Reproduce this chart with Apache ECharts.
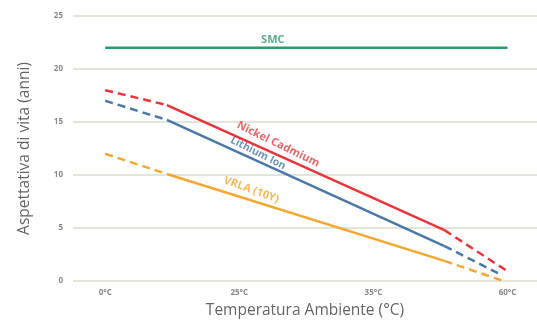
<!DOCTYPE html>
<html><head><meta charset="utf-8">
<script src="https://cdn.jsdelivr.net/npm/echarts@6/dist/echarts.min.js"></script>
<style>html,body{margin:0;padding:0;background:#fff}#c{width:537px;height:320px}</style>
</head><body><div id="c"></div>
<script>
const tickLabels = ['0°C', '25°C', '35°C', '60°C'];
// x positions on the temperature scale (category index units)
const xBreaks = [0, 0.46, 2.53, 2.99];
const smcX = [0, 3];
const smcY = [22, 22];
const nickelY = [18, 16.6, 4.8, 1.0];
const lithiumY = [17, 15.2, 3.3, 0.6];
const vrlaY = [12, 10.1, 1.9, 0.0];
const lithiumEndX = 2.95;
const vrlaEndX = 2.97;
const labels = [
  {name: 'SMC', x: 1.25, y: 22.75, rot: 0, size: 11, color: '#2e9a6b'},
  {name: 'Nickel Cadmium', x: 1.29, y: 12.9, rot: -26, size: 11, color: '#e23a40'},
  {name: 'Lithium Ion', x: 1.14, y: 12.05, rot: -27, size: 10.5, color: '#4a78a8'},
  {name: 'VRLA (10Y)', x: 1.09, y: 8.6, rot: -20, size: 11, color: '#f2a630'}
];

function segs(name, ys, color, endX) {
  const xs = xBreaks.slice(); if (endX !== undefined) xs[3] = endX;
  const pts = xs.map((x, i) => [x, ys[i]]);
  const base = {type: 'line', symbol: 'none', silent: true, name: name};
  return [
    Object.assign({}, base, {data: pts.slice(0, 2), lineStyle: {color: color, width: 2.5, type: [8, 5]}}),
    Object.assign({}, base, {data: pts.slice(1, 3), lineStyle: {color: color, width: 2.5}}),
    Object.assign({}, base, {data: pts.slice(2, 4), lineStyle: {color: color, width: 2.5, type: [8, 5]}})
  ];
}

const series = [
  {type: 'line', symbol: 'none', data: smcX.map((x, i) => [x, smcY[i]]), lineStyle: {color: '#2e9a6b', width: 2.5}},
  ...segs('Nickel Cadmium', nickelY, '#e8353b'),
  ...segs('Lithium Ion', lithiumY, '#4a78a8', lithiumEndX),
  ...segs('VRLA', vrlaY, '#f4a730', vrlaEndX),
  {type: 'scatter', symbolSize: 0, silent: true,
   data: labels.map(l => ({value: [l.x, l.y], label: {show: true, position: 'inside', formatter: l.name, rotate: l.rot, color: l.color, fontSize: l.size, fontWeight: 'bold', fontFamily: 'Open Sans'}}))}
];

const chart = echarts.init(document.getElementById('c'));
chart.setOption({
  animation: false,
  grid: {left: 73, right: 0, top: 16, bottom: 39, outerBoundsMode: 'none', containLabel: false},
  xAxis: {
    type: 'value', min: -0.24, max: 3.22,
    axisLine: {show: false}, axisTick: {show: false}, splitLine: {show: false},
    axisLabel: {customValues: [0, 1, 2, 3], formatter: v => tickLabels[Math.round(v)], fontSize: 8, color: '#888', fontWeight: 'bold', fontFamily: 'Open Sans', margin: 8},
    name: 'Temperatura Ambiente (°C)', nameLocation: 'middle', nameGap: 22,
    nameTextStyle: {fontSize: 15.5, color: '#666', fontFamily: 'Open Sans'}
  },
  yAxis: {
    type: 'value', min: 0, max: 25, interval: 5,
    axisLine: {show: false}, axisTick: {show: false},
    splitLine: {lineStyle: {color: '#d5dccb', width: 1.5}},
    axisLabel: {fontSize: 8, color: '#888', fontWeight: 'bold', fontFamily: 'Open Sans', margin: 10},
    name: 'Aspettativa di vita (anni)', nameLocation: 'middle', nameGap: 40,
    nameTextStyle: {fontSize: 15.5, color: '#666', fontFamily: 'Open Sans'}
  },
  series: series
});
</script></body></html>
